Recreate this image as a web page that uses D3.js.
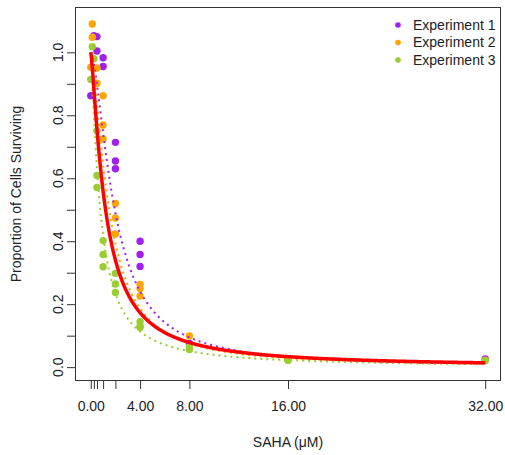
<!DOCTYPE html>
<html>
<head>
<meta charset="utf-8">
<script src="https://cdn.jsdelivr.net/npm/d3@7"></script>
<style>
  body { margin: 0; background: #fff; }
  svg text { font-family: "Liberation Sans", Arial, sans-serif; fill: #222; }
</style>
</head>
<body>
<div id="chart"></div>
<script>
// doses (uM) and proportion of cells surviving
const experiments = ['Experiment 1', 'Experiment 2', 'Experiment 3'];
const colors = ['#a020f0', '#ffa500', '#9acd32'];

const exp1Dose  = [0, 0.25, 0.5, 0.5, 1, 1, 2, 2, 2, 4, 4, 4, 8, 16, 32];
const exp1Value = [0.862, 1.053, 1.05, 1.004, 0.983, 0.955, 0.714, 0.655, 0.630, 0.400, 0.358, 0.320, 0.075, 0.025, 0.026];

const exp2Dose  = [0, 0.125, 0.125, 0.5, 0.5, 1, 1, 1, 2, 2, 2, 4, 4, 4, 8, 16, 32];
const exp2Value = [0.953, 1.09, 1.048, 0.95, 0.902, 0.862, 0.769, 0.725, 0.52, 0.474, 0.423, 0.263, 0.25, 0.226, 0.099, 0.022, 0.022];

const exp3Dose  = [0, 0.125, 0.25, 0.5, 0.5, 0.5, 1, 1, 1, 2, 2, 2, 4, 4, 4, 8, 8, 16, 32];
const exp3Value = [0.914, 1.018, 0.98, 0.751, 0.609, 0.571, 0.402, 0.358, 0.319, 0.298, 0.264, 0.2375, 0.144, 0.13, 0.126, 0.065, 0.056, 0.022, 0.021];

// fitted log-logistic curves: [ED50, slope]
const fitExp = [[1.95, 1.6], [1.5, 1.5], [0.77, 1.25]];
const fitAll = [1.2, 1.3];

const xTicks = [0, 0.25, 0.5, 1, 2, 4, 8, 16, 32];
const xLabels = [0, 4, 8, 16, 32];
const yTicks = [0, 0.1, 0.2, 0.3, 0.4, 0.5, 0.6, 0.7, 0.8, 0.9, 1.0];
const yLabels = [0, 0.2, 0.4, 0.6, 0.8, 1.0];

const width = 505, height = 455;
const box = { left: 75, right: 501, top: 7, bottom: 381 };

const svg = d3.select('#chart').append('svg')
    .attr('width', width)
    .attr('height', height);

// R style 4% padding round the data range
const x = d3.scaleLinear().domain([-1.28, 33.28]).range([box.left, box.right]);
const y = d3.scaleLinear().domain([-0.044, 1.144]).range([box.bottom, box.top]);

// X axis
const xAxis = svg.append('g')
    .attr('transform', `translate(0,${box.bottom})`)
    .call(d3.axisBottom(x)
        .tickValues(xTicks)
        .tickSize(8)
        .tickPadding(12)
        .tickFormat(d => xLabels.includes(d) ? d.toFixed(2) : ''));
xAxis.select('.domain').remove();
xAxis.selectAll('line').attr('stroke', '#333');
xAxis.selectAll('text').attr('font-size', 14).attr('font-family', null);

// Y axis
const yAxis = svg.append('g')
    .attr('transform', `translate(${box.left},0)`)
    .call(d3.axisLeft(y).tickValues(yTicks).tickSize(8).tickFormat(''));
yAxis.select('.domain').remove();
yAxis.selectAll('line').attr('stroke', '#333');

svg.append('g').selectAll('text')
    .data(yLabels).enter()
    .append('text')
    .attr('transform', d => `translate(58,${y(d)}) rotate(-90)`)
    .attr('text-anchor', 'middle')
    .attr('dy', '0.35em')
    .attr('font-size', 14)
    .text(d => d.toFixed(1));

// frame
svg.append('rect')
    .attr('x', box.left + 0.5)
    .attr('y', box.top + 0.5)
    .attr('width', box.right - box.left - 1)
    .attr('height', box.bottom - box.top - 1)
    .attr('fill', 'none')
    .attr('stroke', '#333');

// axis titles
svg.append('text')
    .attr('x', (box.left + box.right) / 2)
    .attr('y', 447)
    .attr('text-anchor', 'middle')
    .attr('font-size', 14)
    .text('SAHA (\u03bcM)');

svg.append('text')
    .attr('transform', `translate(21,${(box.top + box.bottom) / 2}) rotate(-90)`)
    .attr('text-anchor', 'middle')
    .attr('font-size', 14)
    .text('Proportion of Cells Surviving');

// points
const series = [
    { dose: exp1Dose, value: exp1Value },
    { dose: exp2Dose, value: exp2Value },
    { dose: exp3Dose, value: exp3Value }
];

series.forEach((s, i) => {
    svg.append('g').selectAll('circle')
        .data(s.dose.map((d, j) => [d, s.value[j]])).enter()
        .append('circle')
        .attr('cx', d => x(d[0]))
        .attr('cy', d => y(d[1]))
        .attr('r', 3.7)
        .attr('fill', colors[i]);
});

// curves
const ll = (p, d) => 1 / (1 + Math.pow(d / p[0], p[1]));
const grid = d3.range(0, 32.0001, 0.02);
const line = d3.line().x(d => x(d[0])).y(d => y(d[1]));

fitExp.forEach((p, i) => {
    svg.append('path')
        .datum(grid.map(d => [d, ll(p, d)]))
        .attr('d', line)
        .attr('fill', 'none')
        .attr('stroke', colors[i])
        .attr('stroke-width', 2)
        .attr('stroke-dasharray', '2,4');
});

svg.append('path')
    .datum(grid.map(d => [d, ll(fitAll, d)]))
    .attr('d', line)
    .attr('fill', 'none')
    .attr('stroke', '#ff0000')
    .attr('stroke-width', 3.5);

// legend
const legend = svg.append('g').selectAll('g')
    .data(experiments).enter()
    .append('g')
    .attr('transform', (d, i) => `translate(398,${25 + i * 17.5})`);

legend.append('circle')
    .attr('r', 2.8)
    .attr('fill', (d, i) => colors[i]);

legend.append('text')
    .attr('x', 15)
    .attr('dy', '0.35em')
    .attr('font-size', 14)
    .text(d => d);
</script>
</body>
</html>
